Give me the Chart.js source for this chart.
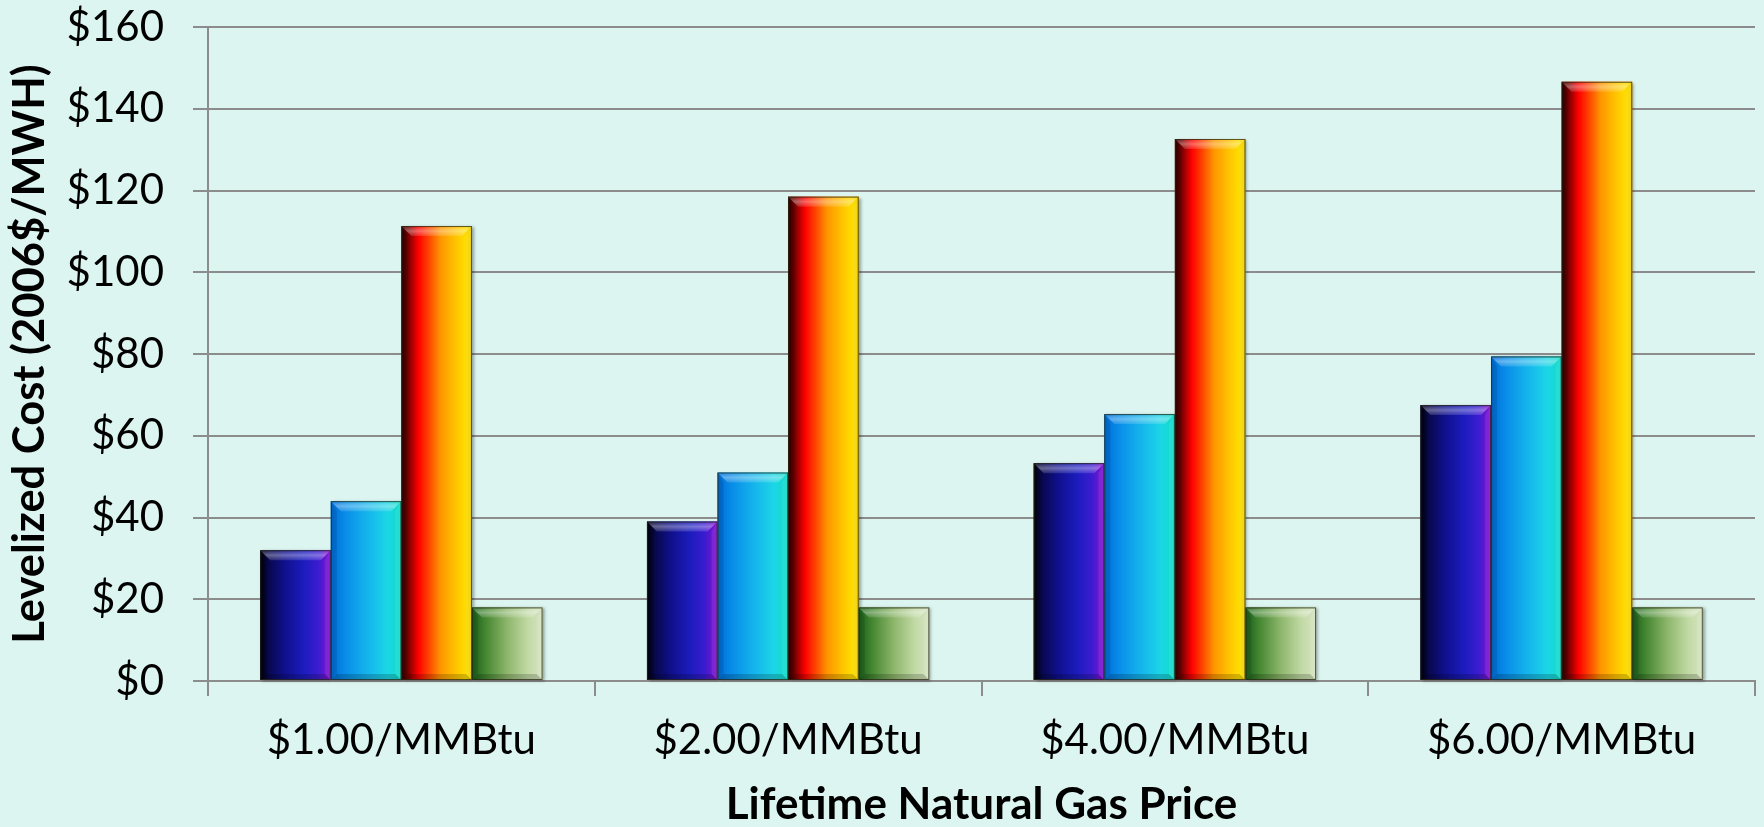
<!DOCTYPE html>
<html><head><meta charset="utf-8">
<script src="https://cdn.jsdelivr.net/npm/chart.js@4/dist/chart.umd.min.js"></script>
<style>html,body{margin:0;padding:0;background:#dcf5f0;overflow:hidden}#wrap{width:1764px;height:827px}</style>
</head><body><div id="wrap"><canvas id="c" width="1764" height="827"></canvas></div>
<script>
// ---- data ----
const categories = ['$1.00/MMBtu', '$2.00/MMBtu', '$4.00/MMBtu', '$6.00/MMBtu'];
const seriesA = [32, 39, 53.3, 67.5];
const seriesB = [44, 51, 65.3, 79.4];
const seriesC = [111.3, 118.5, 132.6, 146.6];
const seriesD = [18, 18, 18, 18];
const yTicks = [0, 20, 40, 60, 80, 100, 120, 140, 160];
const yTitle = 'Levelized Cost (2006$/MWH)';
const xTitle = 'Lifetime Natural Gas Price';

// ---- styles ----
const BG = '#dcf5f0';
const GRID = '#8c8c8c';
const gradStops = [
  [[0,'#000008'],[0.12,'#08084e'],[0.35,'#10108e'],[0.62,'#1c1cbe'],[0.82,'#3a1cd0'],[1,'#8c10d0']],
  [[0,'#006cd8'],[0.2,'#088ce8'],[0.5,'#14b2ec'],[0.8,'#1cd6e6'],[1,'#10dcc6']],
  [[0,'#2a0000'],[0.1,'#7a0000'],[0.24,'#ff0000'],[0.4,'#ff4a00'],[0.55,'#ff9400'],[0.75,'#ffc000'],[0.9,'#ffdc00'],[1,'#eed000']],
  [[0,'#1a5e1a'],[0.2,'#468832'],[0.5,'#8eb66c'],[0.8,'#c2daa6'],[1,'#d6e4c2']]
];
const baseColors = ['#1a1aa8', '#14b2ec', '#ff7000', '#8eb66c'];

const bgPlugin = {
  id: 'bg',
  beforeDraw(chart) {
    const ctx = chart.ctx;
    ctx.save();
    ctx.fillStyle = BG;
    ctx.fillRect(0, 0, chart.width, chart.height);
    ctx.restore();
  }
};

const bevelPlugin = {
  id: 'bevel',
  afterDatasetsDraw(chart) {
    const ctx = chart.ctx;
    chart.data.datasets.forEach((ds, di) => {
      const meta = chart.getDatasetMeta(di);
      meta.data.forEach(el => {
        const p = el.getProps(['x', 'y', 'base', 'width'], true);
        const l = p.x - p.width / 2, r = p.x + p.width / 2;
        const t = Math.min(p.y, p.base), b = Math.max(p.y, p.base);
        const w = r - l, h = b - t;
        const bv = Math.min(10, h / 3, w / 4);
        ctx.save();
        const g = ctx.createLinearGradient(l, 0, r, 0);
        gradStops[di].forEach(s => g.addColorStop(s[0], s[1]));
        ctx.shadowColor = 'rgba(0,0,0,0.35)';
        ctx.shadowBlur = 3;
        ctx.shadowOffsetX = 2;
        ctx.shadowOffsetY = 1;
        ctx.fillStyle = g;
        ctx.fillRect(l, t, w, h);
        ctx.shadowColor = 'transparent';
        const tg = ctx.createLinearGradient(0, t, 0, t + bv);
        tg.addColorStop(0, 'rgba(255,255,255,0.10)');
        tg.addColorStop(0.5, 'rgba(255,255,255,0.38)');
        tg.addColorStop(1, 'rgba(255,255,255,0.12)');
        ctx.fillStyle = tg;
        ctx.beginPath();
        ctx.moveTo(l, t); ctx.lineTo(r, t); ctx.lineTo(r - bv, t + bv); ctx.lineTo(l + bv, t + bv); ctx.closePath();
        ctx.fill();
        ctx.fillStyle = 'rgba(0,0,0,0.10)';
        ctx.beginPath();
        ctx.moveTo(l, t); ctx.lineTo(l + bv * 0.6, t + bv); ctx.lineTo(l + bv * 0.6, b - bv * 0.6); ctx.lineTo(l, b); ctx.closePath();
        ctx.fill();
        ctx.fillStyle = 'rgba(255,255,255,0.08)';
        ctx.beginPath();
        ctx.moveTo(r, t); ctx.lineTo(r - bv * 0.6, t + bv); ctx.lineTo(r - bv * 0.6, b - bv * 0.6); ctx.lineTo(r, b); ctx.closePath();
        ctx.fill();
        ctx.fillStyle = 'rgba(0,0,0,0.18)';
        ctx.beginPath();
        ctx.moveTo(l, b); ctx.lineTo(r, b); ctx.lineTo(r - bv * 0.6, b - bv * 0.6); ctx.lineTo(l + bv * 0.6, b - bv * 0.6); ctx.closePath();
        ctx.fill();
        ctx.strokeStyle = 'rgba(40,40,20,0.75)';
        ctx.lineWidth = 1;
        ctx.strokeRect(l + 0.5, t + 0.5, w - 1, h - 1);
        ctx.restore();
      });
    });
  }
};

const mk = (label, data, i) => ({
  label, data,
  backgroundColor: baseColors[i],
  borderWidth: 0,
  categoryPercentage: 0.73,
  barPercentage: 1.0
});

new Chart(document.getElementById('c'), {
  type: 'bar',
  data: {
    labels: categories,
    datasets: [
      mk('Series 1', seriesA, 0),
      mk('Series 2', seriesB, 1),
      mk('Series 3', seriesC, 2),
      mk('Series 4', seriesD, 3)
    ]
  },
  options: {
    responsive: false,
    animation: false,
    devicePixelRatio: 1,
    layout: { padding: { top: 27, right: 9, left: 0, bottom: 0 } },
    plugins: { legend: { display: false }, tooltip: { enabled: false } },
    scales: {
      x: {
        offset: true,
        grid: { offset: true, drawOnChartArea: false, drawTicks: true, tickLength: 15, color: GRID, lineWidth: 2 },
        border: { display: true, color: GRID, width: 2 },
        ticks: { color: '#000', font: { family: 'Lato', size: 42 }, padding: 19, maxRotation: 0 },
        title: { display: true, text: xTitle, color: '#000', font: { family: 'Lato', size: 44, weight: 'bold', lineHeight: 1 }, padding: { top: 0, bottom: 0 } },
        afterFit(scale) { scale.height = 146; scale.paddingLeft = 0; scale.paddingRight = 0; }
      },
      y: {
        min: 0, max: 160,
        afterBuildTicks(scale) { scale.ticks = yTicks.map(v => ({ value: v })); },
        grid: { color: GRID, lineWidth: 2, drawTicks: true, tickLength: 15 },
        border: { display: true, color: GRID, width: 2 },
        ticks: { color: '#000', font: { family: 'Lato', size: 42 }, padding: 29, callback: v => '$' + v },
        title: { display: true, text: yTitle, color: '#000', font: { family: 'Lato', size: 43.5, weight: 'bold', lineHeight: 1.2 }, padding: { top: 4, bottom: 0 } },
        afterFit(scale) { scale.width = 208; scale.paddingTop = 0; scale.paddingBottom = 0; }
      }
    }
  },
  plugins: [bgPlugin, bevelPlugin]
});
</script>
</body></html>
